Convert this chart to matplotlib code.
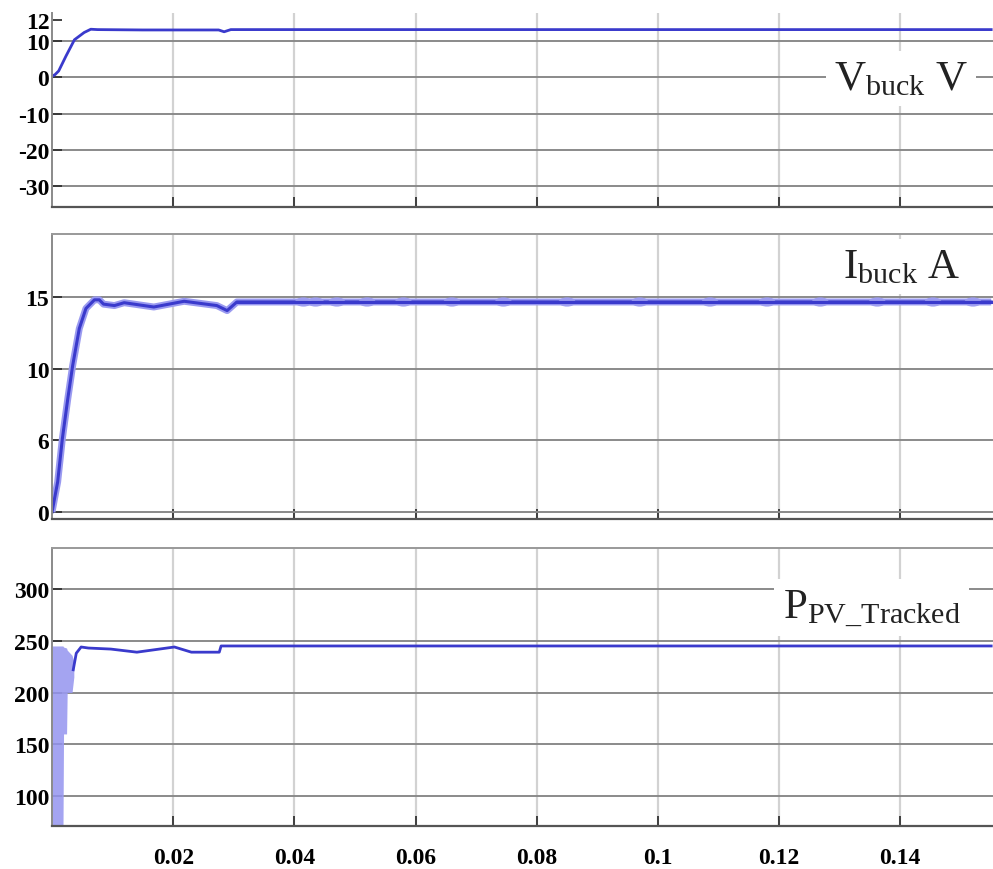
import matplotlib.pyplot as plt
from matplotlib.patches import Ellipse
import numpy as np

plt.rcParams['font.family'] = ['Liberation Serif', 'DejaVu Serif']
plt.rcParams['mathtext.fontset'] = 'custom'
plt.rcParams['mathtext.rm'] = 'Liberation Serif'
plt.rcParams['mathtext.it'] = 'Liberation Serif:italic'

# time axis ticks
x_ticks = [0.02, 0.04, 0.06, 0.08, 0.10, 0.12, 0.14]
x_labels = ['0.02', '0.04', '0.06', '0.08', '0.1', '0.12', '0.14']

# V_buck
t_v = [0, 0.0005, 0.0011, 0.0023, 0.0037, 0.0053, 0.0064, 0.0075, 0.015, 0.0275, 0.0284, 0.0295, 0.06, 0.1, 0.155]
v_buck = [0.3, 0.8, 1.8, 5.9, 10.4, 12.4, 13.3, 13.2, 13.1, 13.1, 12.6, 13.2, 13.2, 13.2, 13.2]
v_ticks = [-30, -20, -10, 0, 10]
v_labels = ['-30', '-20', '-10', '0', '10']
# the "12" label sits near the top edge in the original, above the trace
v_top_tick = [15.8]
v_top_label = ['12']

# I_buck
t_i = [0, 0.00093, 0.0017, 0.0026, 0.0034, 0.0045, 0.0056, 0.0070, 0.0078, 0.0085, 0.0103,
       0.0119, 0.0168, 0.0218, 0.0272, 0.0289, 0.0305, 0.04, 0.155]
i_buck = [0, 2.1, 5.1, 7.9, 10.2, 12.8, 14.2, 14.8, 14.8, 14.5, 14.4,
          14.6, 14.3, 14.7, 14.4, 14.05, 14.65, 14.65, 14.65]
i_ripple_t = [0.0415, 0.0435, 0.047, 0.052, 0.058, 0.066, 0.0745, 0.085, 0.097,
              0.1086, 0.118, 0.1268, 0.1362, 0.1454, 0.152]
i_ripple_level = 14.65
i_ticks = [0, 5, 10, 15]
i_labels = ['0', '6', '10', '15']

# P_PV_Tracked
t_osc = [0, 0.0018, 0.0019, 0.0024, 0.0025, 0.0033, 0.0036]
p_osc_hi = [245, 245, 244, 243, 241, 236, 230]
p_osc_lo = [60, 60, 160, 160, 200, 200, 215]
t_p = [0.0035, 0.0040, 0.0048, 0.0060, 0.0097, 0.014, 0.0202, 0.023, 0.0276, 0.0279, 0.05, 0.1, 0.155]
p_pv = [222, 238, 244, 243, 242, 239, 244, 239, 239, 245, 245, 245, 245]
p_ticks = [100, 150, 200, 250, 300]
p_labels = ['100', '150', '200', '250', '300']

LINE = '#3a3acc'
BAND = '#9a9af0'
tick_font = dict(family='Liberation Serif', weight='bold', size=17)

fig = plt.figure(figsize=(9.93, 8.7), dpi=100)
ax1 = fig.add_axes([0.0524, 0.761, 0.9476, 0.223])
ax2 = fig.add_axes([0.0524, 0.4023, 0.9476, 0.3277])
ax3 = fig.add_axes([0.0524, 0.0494, 0.9476, 0.3196])


def style(ax, yt, yl):
    ax.set_xlim(0, 0.1553)
    ax.set_xticks(x_ticks)
    ax.set_yticks(yt)
    ax.set_yticklabels(yl, fontdict=tick_font)
    ax.tick_params(axis='both', which='both', direction='in', length=7, width=1.3,
                   color='#333333', pad=2)
    ax.tick_params(axis='x', pad=15)
    ax.yaxis.grid(True, color='#8a8a8a', lw=1.4)
    ax.xaxis.grid(True, color='#d2d2d2', lw=1.6)
    ax.set_axisbelow(True)
    ax.spines['right'].set_visible(False)
    ax.spines['left'].set_color('#8a8a8a')
    ax.spines['left'].set_linewidth(1.4)
    ax.spines['bottom'].set_color('#555555')
    ax.spines['bottom'].set_linewidth(1.6)
    ax.spines['top'].set_color('#999999')
    ax.spines['top'].set_linewidth(1.4)


style(ax1, v_ticks, v_labels)
ax1.set_ylim(-35.7, 17.8)
ax1.set_yticks(v_top_tick, minor=True)
ax1.set_yticklabels(v_top_label, minor=True, fontdict=tick_font)
ax1.spines['top'].set_visible(False)
ax1.set_xticklabels([])
ax1.plot(t_v, v_buck, color=LINE, lw=2)
ax1.text(0.902, 0.608, r'$\mathrm{V_{buck}\ V}$', transform=ax1.transAxes, ha='center',
         va='baseline', fontsize=31, color='#222222',
         bbox=dict(facecolor='white', edgecolor='none', pad=6))

style(ax2, i_ticks, i_labels)
ax2.set_ylim(-0.49, 19.4)
ax2.set_xticklabels([])
ax2.plot(t_i, i_buck, color=BAND, lw=5, solid_capstyle='butt')
ax2.plot(t_i, i_buck, color=LINE, lw=2.2)
for tr in i_ripple_t:
    ax2.add_patch(Ellipse((tr, i_ripple_level), 0.0028, 0.65, facecolor=BAND,
                          edgecolor='none', alpha=0.9, zorder=3))
ax2.plot(t_i[16:], i_buck[16:], color=LINE, lw=2.2, zorder=4)
ax2.text(0.903, 0.849, r'$\mathrm{I_{buck}\ A}$', transform=ax2.transAxes, ha='center',
         va='baseline', fontsize=31, color='#222222',
         bbox=dict(facecolor='white', edgecolor='none', pad=6))

style(ax3, p_ticks, p_labels)
ax3.set_ylim(71, 339.7)
ax3.set_xticklabels(x_labels, fontdict=tick_font)
ax3.fill_between(t_osc, p_osc_lo, p_osc_hi, color=BAND, lw=0, alpha=0.9)
ax3.plot(t_p, p_pv, color=LINE, lw=2)
ax3.text(0.871, 0.752, r'$\mathrm{P_{PV\_Tracked}}$', transform=ax3.transAxes, ha='center',
         va='baseline', fontsize=31, color='#222222',
         bbox=dict(facecolor='white', edgecolor='none', pad=6))

plt.savefig('out.png', dpi=100)
